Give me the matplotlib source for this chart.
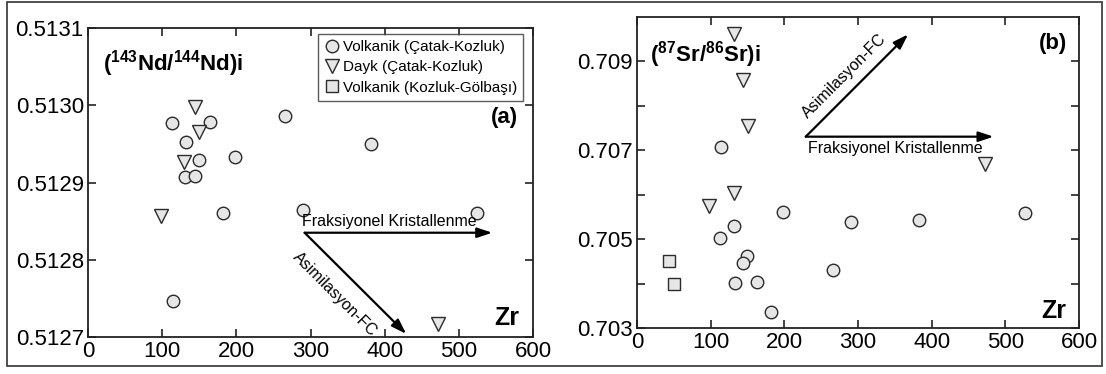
import matplotlib
matplotlib.use('Agg')
from matplotlib import pyplot as plt
from matplotlib.patches import Rectangle

plt.rcParams['font.family'] = ['Liberation Sans', 'DejaVu Sans']
plt.rcParams['mathtext.fontset'] = 'custom'
plt.rcParams['mathtext.rm'] = 'Liberation Sans'
plt.rcParams['mathtext.bf'] = 'Liberation Sans:bold'

# (a) Zr vs (143Nd/144Nd)i
nd_volk_zr = [113, 165, 132, 150, 131, 144, 198, 182, 266, 382, 290, 524, 114.5]
nd_volk = [0.512977, 0.512978, 0.512953, 0.512929, 0.512907, 0.512909, 0.512933,
           0.512860, 0.512986, 0.512950, 0.512865, 0.512860, 0.512746]
nd_dayk_zr = [144, 150, 130, 98, 471.6]
nd_dayk = [0.512998, 0.512966, 0.512927, 0.512857, 0.512717]

# (b) Zr vs (87Sr/86Sr)i
sr_volk_zr = [113.3, 197.8, 131.7, 112.4, 290.4, 382.4, 526, 149.2, 144, 266.3, 132.7, 162.9, 182.2]
sr_volk = [0.707065, 0.705605, 0.705288, 0.705033, 0.705379, 0.705424, 0.705582,
           0.704618, 0.704460, 0.704302, 0.704024, 0.704039, 0.703354]
sr_dayk_zr = [131.3, 144, 150.1, 132.2, 97.3, 471.7]
sr_dayk = [0.709625, 0.708571, 0.707555, 0.706034, 0.705740, 0.706689]
sr_gol_zr = [43, 49.6]
sr_gol = [0.704498, 0.703979]

labels = ['Volkanik (Çatak-Kozluk)', 'Dayk (Çatak-Kozluk)', 'Volkanik (Kozluk-Gölbaşı)']

face = '#e6e6e6'
edge = '#2b2b2b'
line = '#222222'


def style_axes(ax):
    for s in ax.spines.values():
        s.set_linewidth(1.3)
        s.set_color(line)
    ax.tick_params(direction='in', length=6, width=1.2, color=line,
                   top=True, right=True, labelsize=16, pad=3)
    ax.set_xlim(0, 600)
    ax.set_xticks([0, 100, 200, 300, 400, 500, 600])


def draw_points(ax, xs, ys, marker, ms, label):
    return ax.plot(xs, ys, marker, ls='none', ms=ms, mfc=face, mec=edge, mew=1.0,
                   label=label)[0]


def arrow(ax, x0, y0, x1, y1):
    ax.annotate('', xy=(x1, y1), xytext=(x0, y0),
                arrowprops=dict(arrowstyle='-|>,head_length=0.9,head_width=0.3',
                                color='black', lw=1.6, shrinkA=0, shrinkB=0))


fig = plt.figure(figsize=(11.06, 3.74), dpi=100)
fig.patches.append(Rectangle((0.0063, 0.021), 0.990, 0.974, transform=fig.transFigure,
                             fill=False, lw=1.2, ec='#333333'))

# ---- panel (a)
ax1 = fig.add_axes([0.0796, 0.0989, 0.4024, 0.8262])
style_axes(ax1)
ax1.set_ylim(0.5127, 0.5131)
ax1.set_yticks([0.5127, 0.5128, 0.5129, 0.5130, 0.5131])
ax1.set_yticklabels(['0.5127', '0.5128', '0.5129', '0.5130', '0.5131'])
h1 = draw_points(ax1, nd_volk_zr, nd_volk, 'o', 9, labels[0])
h2 = draw_points(ax1, nd_dayk_zr, nd_dayk, 'v', 10, labels[1])
h3 = draw_points(ax1, [], [], 's', 9, labels[2])
arrow(ax1, 292, 0.512835, 545, 0.512835)
arrow(ax1, 292, 0.512835, 429, 0.512704)
ax1.text(406, 0.51285, 'Fraksiyonel Kristallenme', fontsize=11.5, ha='center', va='center')
ax1.text(333, 0.512755, 'Asimilasyon-FC', fontsize=11.5, ha='center', va='center',
         rotation=-45, rotation_mode='anchor')
ax1.text(0.034, 0.886, r'$\mathbf{(^{143}Nd/^{144}Nd)i}$', transform=ax1.transAxes,
         fontsize=16, ha='left', va='center')
ax1.text(0.965, 0.71, '(a)', transform=ax1.transAxes, fontsize=16, fontweight='bold',
         ha='right', va='center')
ax1.text(0.968, 0.06, 'Zr', transform=ax1.transAxes, fontsize=18, fontweight='bold',
         ha='right', va='center')
leg = ax1.legend(handles=[h1, h2, h3], loc='upper right', bbox_to_anchor=(0.978, 0.98),
                 fontsize=11, frameon=True, fancybox=False, handletextpad=0.2,
                 handlelength=1.0, labelspacing=0.4, borderpad=0.4, borderaxespad=0)
leg.get_frame().set_edgecolor('#333333')
leg.get_frame().set_linewidth(1.0)

# ---- panel (b)
ax2 = fig.add_axes([0.576, 0.123, 0.3996, 0.8316])
style_axes(ax2)
ax2.set_ylim(0.703, 0.710)
ax2.set_yticks([0.703, 0.704, 0.705, 0.706, 0.707, 0.708, 0.709])
ax2.set_yticklabels(['0.703', '', '0.705', '', '0.707', '', '0.709'])
draw_points(ax2, sr_volk_zr, sr_volk, 'o', 9, labels[0])
draw_points(ax2, sr_dayk_zr, sr_dayk, 'v', 10, labels[1])
draw_points(ax2, sr_gol_zr, sr_gol, 's', 9, labels[2])
arrow(ax2, 229, 0.707306, 484, 0.707306)
arrow(ax2, 229, 0.707306, 368, 0.70961)
ax2.text(351, 0.707035, 'Fraksiyonel Kristallenme', fontsize=11.5, ha='center', va='center')
ax2.text(281, 0.70866, 'Asimilasyon-FC', fontsize=11.5, ha='center', va='center',
         rotation=45, rotation_mode='anchor')
ax2.text(0.03, 0.879, r'$\mathbf{(^{87}Sr/^{86}Sr)i}$', transform=ax2.transAxes,
         fontsize=16, ha='left', va='center')
ax2.text(0.974, 0.916, '(b)', transform=ax2.transAxes, fontsize=16, fontweight='bold',
         ha='right', va='center')
ax2.text(0.97, 0.055, 'Zr', transform=ax2.transAxes, fontsize=18, fontweight='bold',
         ha='right', va='center')

fig.savefig('out.png', dpi=100)
